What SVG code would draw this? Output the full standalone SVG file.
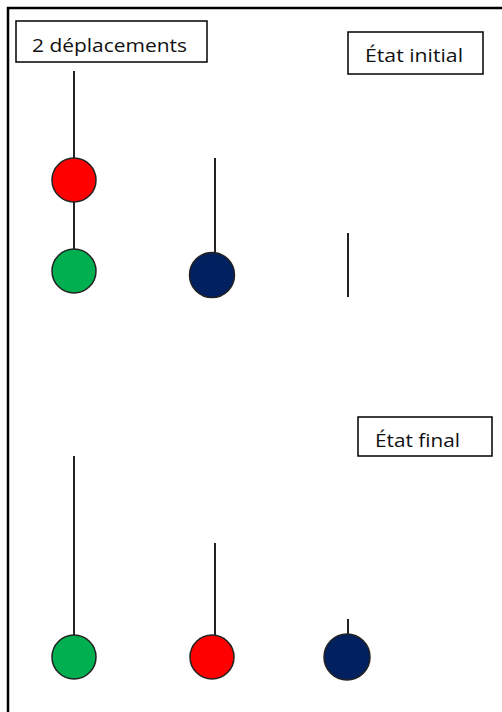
<svg xmlns="http://www.w3.org/2000/svg" width="502" height="712" viewBox="0 0 502 712">
<style>
.box{fill:#fff;stroke:#000;stroke-width:1.5}
.lbl{font-family:"Open Sans","Liberation Sans",Arial,sans-serif;font-size:19px;fill:#111}
.str{stroke:#222;stroke-width:2;fill:none}
.ball{stroke:#222;stroke-width:1.5}
</style>
<rect x="0" y="0" width="502" height="712" fill="#fff"/>
<path d="M8 720 V8 H510" fill="none" stroke="#000" stroke-width="2.5"/>
<g id="connectors">
<line class="str" x1="74" y1="71" x2="74" y2="158"/>
<line class="str" x1="74" y1="202" x2="74" y2="249"/>
<line class="str" x1="215" y1="158" x2="215" y2="253"/>
<line class="str" x1="348" y1="233" x2="348" y2="297"/>
<line class="str" x1="74" y1="456" x2="74" y2="635"/>
<line class="str" x1="215" y1="543" x2="215" y2="635"/>
<line class="str" x1="348" y1="619" x2="348" y2="635"/>
</g>
<g id="label-deplacements"><rect class="box" x="16" y="21" width="191" height="41"/><text class="lbl" x="32" y="52" textLength="155" lengthAdjust="spacingAndGlyphs">2 déplacements</text></g>
<g id="label-initial"><rect class="box" x="348" y="32" width="135" height="42"/><text class="lbl" x="365" y="62" textLength="98" lengthAdjust="spacingAndGlyphs">État initial</text></g>
<g id="label-final"><rect class="box" x="358" y="417" width="134" height="39"/><text class="lbl" x="375" y="447" textLength="85" lengthAdjust="spacingAndGlyphs">État final</text></g>
<g id="red-initial"><circle class="ball" cx="74" cy="180" r="22" fill="#ff0000"/></g>
<g id="green-initial"><circle class="ball" cx="74" cy="271" r="22" fill="#00b050"/></g>
<g id="navy-initial"><circle class="ball" cx="212" cy="275" r="22.5" fill="#002060"/></g>
<g id="green-final"><circle class="ball" cx="74" cy="657" r="22" fill="#00b050"/></g>
<g id="red-final"><circle class="ball" cx="212" cy="657" r="22" fill="#ff0000"/></g>
<g id="navy-final"><circle class="ball" cx="347" cy="657" r="23" fill="#002060"/></g>
</svg>
